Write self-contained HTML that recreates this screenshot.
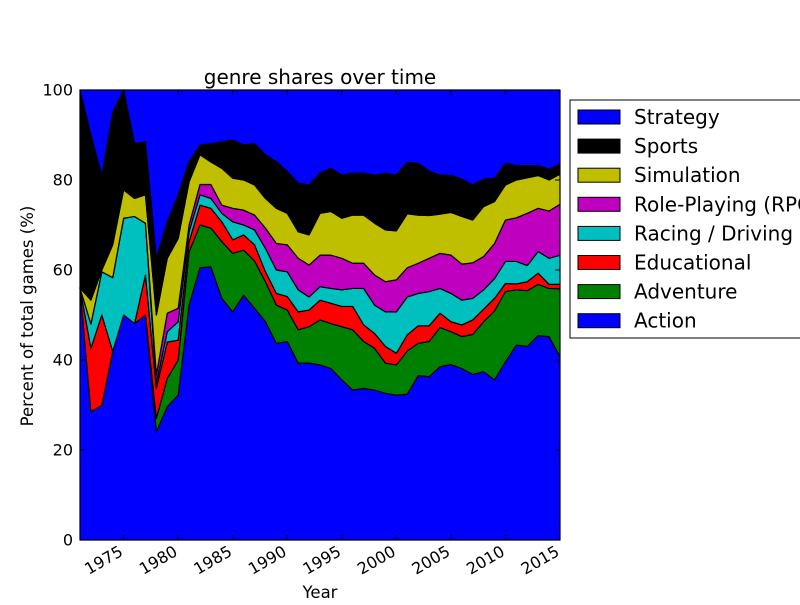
<!DOCTYPE html>
<html><head><meta charset="utf-8"><style>
html,body{margin:0;padding:0;background:#fff;}
svg text{font-family:"DejaVu Sans","Liberation Sans",sans-serif;}
</style></head><body>
<svg id="chart" width="800" height="600" viewBox="0 0 800 600" xmlns="http://www.w3.org/2000/svg">
<rect width="800" height="600" fill="#fff"/>
<text x="320" y="84" font-size="20" text-anchor="middle">genre shares over time</text>
<g id="areas"></g>
<rect x="80" y="90" width="480" height="450" fill="none" stroke="#000" stroke-width="1"/>
<g id="axes"></g>
<text x="320" y="598" font-size="16.5" text-anchor="middle">Year</text>
<text transform="translate(33,316) rotate(-90)" font-size="16.5" text-anchor="middle">Percent of total games (%)</text>
<g id="legend"></g>
</svg>
<script>
const years = [];
for (let y = 1971; y <= 2015; y++) years.push(y);
const genres = ["Action","Adventure","Educational","Racing / Driving","Role-Playing (RPG)","Simulation","Sports","Strategy"];
const colors = ["#0000ff","#008000","#ff0000","#00bfbf","#bf00bf","#bfbf00","#000000","#0000ff"];
const action = [56,28.5,29.9,41.9,50,48.1,50,24,29.6,32.2,52.2,60.5,60.7,53.7,50.7,54.4,51.5,48.5,43.7,44.1,39.3,39.3,38.9,38.1,35.6,33.3,33.7,33.3,32.6,32.2,32.4,36.5,36.3,38.5,39,38.1,36.8,37.4,35.6,39.6,43.3,43,45.4,45.2,40.7];
const adventure = [0,0,0,0,0,0,0,3,6.3,7.8,11.8,9.5,8.6,12.6,13,10,10.5,8.9,8.5,7,7.4,8.1,10,10,11.8,13.4,10.4,9.3,6.7,6.7,9.6,7.2,7.8,8.7,7.3,7.1,8.9,11.1,15.3,15.6,12.3,12.4,11.4,10.7,15.1];
const educational = [0,14.1,20.1,0,0,0,8.9,6.7,8.1,4.4,2.3,4.4,4.4,4.4,3,3.4,3.6,2.2,2.6,3,4,3.7,4.4,4.5,4.5,5.2,3.7,3.3,3.7,2.6,3.6,3.9,3.5,3.2,2.2,2.6,3.2,2.8,2.8,1.8,1.3,2,2.5,0.9,1];
const racing = [0,5.4,9.6,16.4,21.5,23.8,11.5,1.1,2.3,4.1,2.2,2.3,2.2,1.9,4,2.2,3.3,5.2,5.2,5.5,4.9,2.9,3,3.3,3.7,4,8.1,6.3,7.7,9.2,8.4,7.2,7.6,5.5,6.3,5.5,4.8,4.3,4.4,4.9,5,3.6,4.8,5.8,6.5];
const rpg = [0,0,0,0,0,0,0,1.9,4.1,3,1.5,2.3,3.1,1.8,3,3.3,3.3,4.5,5.9,6,7,7.1,7,7.4,7,5.6,5.6,6.7,6.7,7.1,6.5,6.7,7.4,7.8,8.5,8,7.9,7.4,7.8,9.2,9.7,11.6,9.6,10.5,11.3];
const simulation = [0,5.3,0.4,7.3,6.3,4,6.3,13.3,12.2,15.5,9.6,6.6,5,8.2,6.7,6.7,6.7,6.6,7.8,7,5.9,6.7,9.3,9.7,8.9,10.7,10.7,11.5,11.5,10.9,12,10.7,9.5,8.7,9.5,10.6,9.5,11.1,9.3,7.8,8.4,7.9,7.3,6.9,6.7];
const sports = [44,36.7,21,29.4,22.2,12.2,11.8,12.6,8.1,9.7,4.4,2.2,4,5.9,8.5,7.8,9.2,9.7,10.4,9.3,10.8,11.1,8.9,9.6,9.6,9.3,9.3,10.7,12.6,12.4,11.4,11.5,9.9,8.7,8.2,8.3,7.8,6.1,5.2,4.8,3.2,2.7,2.2,2.4,2.2];
const strategy = [0,10,19,5,0,11.9,11.5,37.4,29.3,23.3,16,12.2,12,11.5,11.1,12.2,11.9,14.4,15.9,18.1,20.7,21.1,18.5,17.4,18.9,18.5,18.5,18.9,18.5,18.9,16.1,16.3,18,18.9,19,19.8,21.1,19.8,19.6,16.3,16.8,16.8,16.8,17.6,16.5];
const series = [action,adventure,educational,racing,rpg,simulation,sports,strategy];
const yTicks = [0,20,40,60,80,100];
const xTicks = [1975,1980,1985,1990,1995,2000,2005,2010,2015];

const NS = "http://www.w3.org/2000/svg";
const X0 = 80, X1 = 560, Y0 = 540, Y1 = 90;
const xMin = years[0], xMax = years[years.length-1];
function xs(v){ return X0 + (v - xMin) / (xMax - xMin) * (X1 - X0); }
function ys(v){ return Y0 - v / 100 * (Y0 - Y1); }

const areas = document.getElementById('areas');
let lower = years.map(() => 0);
series.forEach((s, i) => {
  const upper = lower.map((l, j) => l + s[j]);
  let pts = years.map((yr, j) => xs(yr).toFixed(2) + "," + ys(upper[j]).toFixed(2));
  for (let j = years.length - 1; j >= 0; j--) pts.push(xs(years[j]).toFixed(2) + "," + ys(lower[j]).toFixed(2));
  const p = document.createElementNS(NS, 'polygon');
  p.setAttribute('points', pts.join(' '));
  p.setAttribute('fill', colors[i]);
  p.setAttribute('stroke', '#000');
  p.setAttribute('stroke-width', '1.2');
  p.setAttribute('stroke-linejoin', 'round');
  
  
  areas.appendChild(p);
  lower = upper;
});

const axes = document.getElementById('axes');
yTicks.forEach(v => {
  const y = ys(v);
  [[X0, X0 + 5], [X1, X1 - 5]].forEach(([a, b]) => {
    const l = document.createElementNS(NS, 'line');
    l.setAttribute('x1', a); l.setAttribute('x2', b); l.setAttribute('y1', y); l.setAttribute('y2', y);
    l.setAttribute('stroke', '#000');
    
    
    axes.appendChild(l);
  });
  const t = document.createElementNS(NS, 'text');
  t.setAttribute('x', X0 - 7); t.setAttribute('y', y + 5.5);
  t.setAttribute('font-size', '16'); t.setAttribute('text-anchor', 'end');
  t.textContent = v;
  
  
  axes.appendChild(t);
});
xTicks.forEach(v => {
  const x = xs(v);
  [[Y0, Y0 - 5], [Y1, Y1 + 5]].forEach(([a, b]) => {
    const l = document.createElementNS(NS, 'line');
    l.setAttribute('x1', x); l.setAttribute('x2', x); l.setAttribute('y1', a); l.setAttribute('y2', b);
    l.setAttribute('stroke', '#000');
    
    
    axes.appendChild(l);
  });
  const t = document.createElementNS(NS, 'text');
  t.setAttribute('transform', 'translate(' + (x - 4) + ',' + (Y0 + 7) + ') rotate(-30)');
  t.setAttribute('font-size', '16'); t.setAttribute('text-anchor', 'end');
  t.setAttribute('dy', '0.55em');
  t.textContent = v;
  
  
  axes.appendChild(t);
});

const legend = document.getElementById('legend');
const box = document.createElementNS(NS, 'rect');
box.setAttribute('x', 570); box.setAttribute('y', 100); box.setAttribute('width', 240); box.setAttribute('height', 238);
box.setAttribute('fill', '#fff'); box.setAttribute('stroke', '#000');


legend.appendChild(box);
for (let k = 0; k < genres.length; k++) {
  const i = genres.length - 1 - k;
  const y = 117 + k * 29.1;
  const r = document.createElementNS(NS, 'rect');
  r.setAttribute('x', 578); r.setAttribute('y', y - 7); r.setAttribute('width', 42); r.setAttribute('height', 14);
  r.setAttribute('fill', colors[i]); r.setAttribute('stroke', '#000');
  
  
  legend.appendChild(r);
  const t = document.createElementNS(NS, 'text');
  t.setAttribute('x', 634); t.setAttribute('y', y + 7); t.setAttribute('font-size', '20');
  t.textContent = genres[i];
  
  
  legend.appendChild(t);
}
</script>
</body></html>
